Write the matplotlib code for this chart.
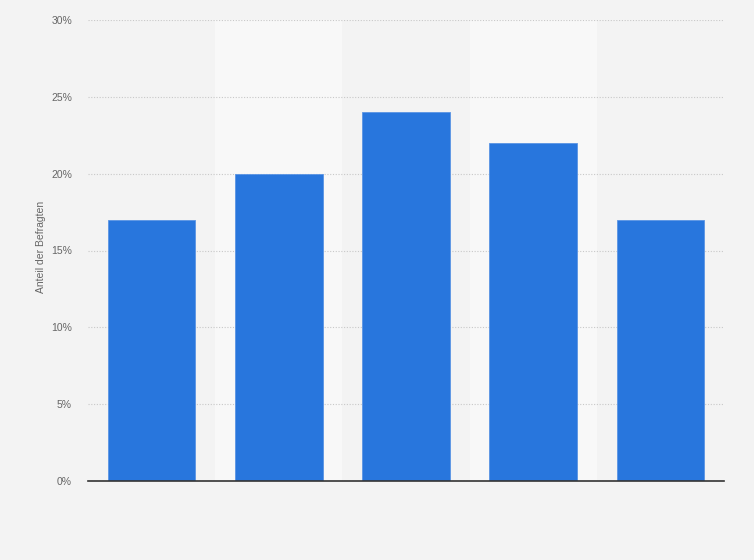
import matplotlib
matplotlib.use("Agg")
import matplotlib.pyplot as plt
from matplotlib.ticker import FuncFormatter

categories = ["", " ", "  ", "   ", "    "]
values = [17, 20, 24, 22, 17]
yticks = [0, 5, 10, 15, 20, 25, 30]

plt.rcParams['font.family'] = ['Liberation Sans', 'DejaVu Sans']

fig = plt.figure(figsize=(7.54, 5.60), dpi=100, facecolor='#f3f3f3')
ax = fig.add_axes([88/754, 1 - 481/560, 636/754, 461/560])
ax.set_facecolor('#f3f3f3')

x = list(range(len(values)))
for i in x:
    if i % 2 == 1:
        ax.axvspan(i - 0.5, i + 0.5, color='#f8f8f8', zorder=0, lw=0)

ax.bar(x, values, width=0.69, color='#2876dd', zorder=3, edgecolor='#5a94e4', linewidth=0.6)

ax.set_xlim(-0.5, len(values) - 0.5)
ax.set_ylim(0, 30)
ax.set_yticks(yticks)
ax.yaxis.set_major_formatter(FuncFormatter(lambda v, p: f"{int(v)}%"))
ax.set_xticks(x)
ax.set_xticklabels(categories)
ax.grid(axis='y', color='#c8c8c8', linestyle=(0, (1, 1.5)), linewidth=0.8, zorder=1)
ax.tick_params(axis='y', length=0, labelsize=7.5, labelcolor='#666666', pad=11.5)
ax.tick_params(axis='x', length=0)
for s in ['top', 'right', 'left']:
    ax.spines[s].set_visible(False)
ax.spines['bottom'].set_color('#333333')
ax.spines['bottom'].set_linewidth(1.2)
ax.spines['bottom'].set_zorder(4)
ax.set_ylabel("Anteil der Befragten", fontsize=7.5, color='#666666')
ax.yaxis.set_label_coords((46 - 88) / 636, (481 - 247) / 461)

fig.savefig("out.png", dpi=100, facecolor=fig.get_facecolor())
